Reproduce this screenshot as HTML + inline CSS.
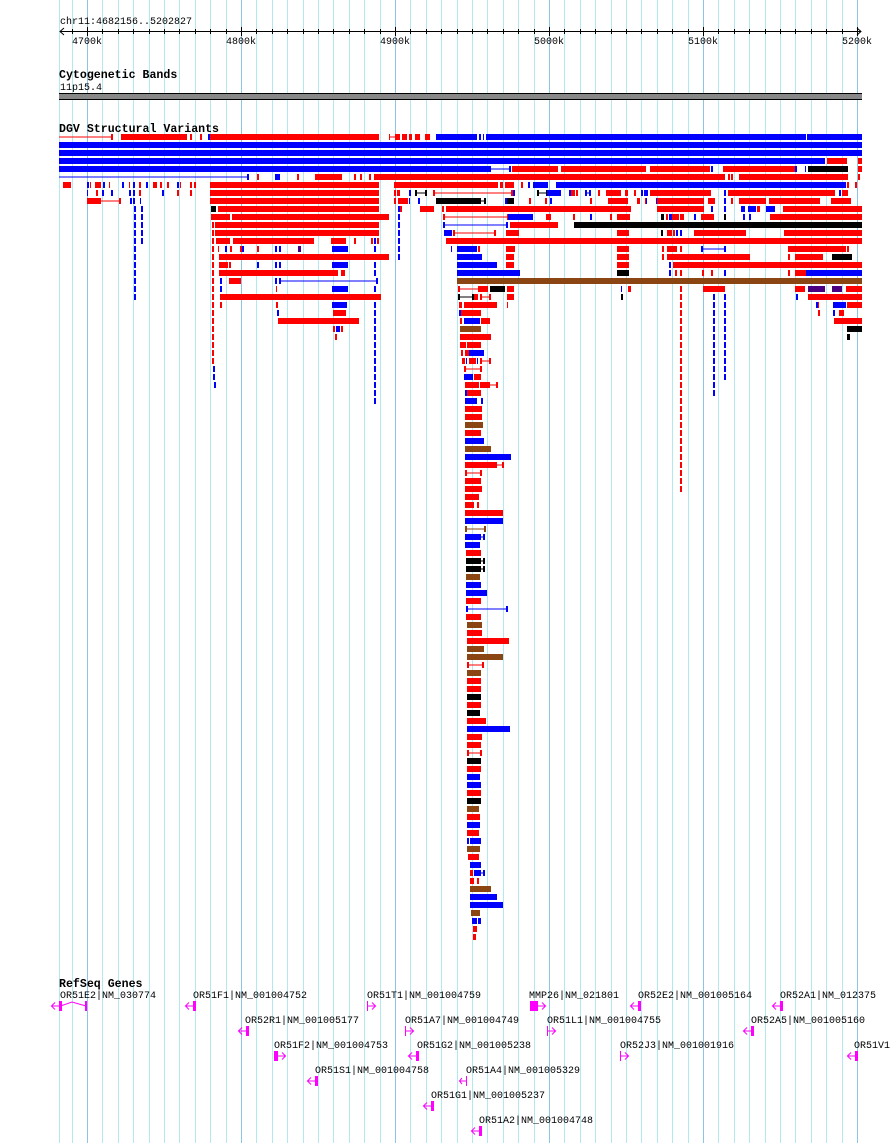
<!DOCTYPE html>
<html><head><meta charset="utf-8"><style>
html,body{margin:0;padding:0;background:#fff;}
svg{display:block;}
text{font-family:"Liberation Mono",monospace;font-size:10px;fill:#000;}
.t{font-weight:bold;font-size:11.6px;}
</style></head><body>
<svg id="s" width="890" height="1143" viewBox="0 0 890 1143" xmlns="http://www.w3.org/2000/svg">
<rect width="890" height="1143" fill="#fff"/>
<g id="grid"></g>
<!-- ruler -->
<text x="60" y="24">chr11:4682156..5202827</text>
<line x1="60" y1="31.5" x2="861" y2="31.5" stroke="#000"/>
<path d="M64 28 L60 31.5 L64 35 M857 28 L861 31.5 L857 35" stroke="#000" fill="none"/>
<g id="ticks"></g>
<text x="72" y="44">4700k</text>
<text x="226" y="44">4800k</text>
<text x="380" y="44">4900k</text>
<text x="534" y="44">5000k</text>
<text x="688" y="44">5100k</text>
<text x="842" y="44">5200k</text>
<text class="t" x="59" y="78">Cytogenetic Bands</text>
<text x="60" y="90">11p15.4</text>
<rect x="59" y="93" width="803" height="7" fill="#888"/>
<line x1="59" y1="93.5" x2="862" y2="93.5" stroke="#000"/>
<line x1="59" y1="99.5" x2="862" y2="99.5" stroke="#000"/>
<text class="t" x="59" y="132">DGV Structural Variants</text>
<g id="dgv"></g>
<text class="t" x="59" y="987">RefSeq Genes</text>
<g id="genes"></g>
<text x="60" y="998">OR51E2|NM_030774</text>
<text x="193" y="998">OR51F1|NM_001004752</text>
<text x="367" y="998">OR51T1|NM_001004759</text>
<text x="529" y="998">MMP26|NM_021801</text>
<text x="638" y="998">OR52E2|NM_001005164</text>
<text x="780" y="998">OR52A1|NM_012375</text>
<text x="245" y="1023">OR52R1|NM_001005177</text>
<text x="405" y="1023">OR51A7|NM_001004749</text>
<text x="547" y="1023">OR51L1|NM_001004755</text>
<text x="751" y="1023">OR52A5|NM_001005160</text>
<text x="274" y="1048">OR51F2|NM_001004753</text>
<text x="417" y="1048">OR51G2|NM_001005238</text>
<text x="620" y="1048">OR52J3|NM_001001916</text>
<text x="854" y="1048">OR51V1</text>
<text x="315" y="1073">OR51S1|NM_001004758</text>
<text x="466" y="1073">OR51A4|NM_001005329</text>
<text x="431" y="1098">OR51G1|NM_001005237</text>
<text x="479" y="1123">OR51A2|NM_001004748</text>
</svg>
<script>
var NS="http://www.w3.org/2000/svg";
function el(p,n,a){var e=document.createElementNS(NS,n);for(var k in a)e.setAttribute(k,a[k]);p.appendChild(e);return e;}
var grid=document.getElementById('grid'),ticks=document.getElementById('ticks');
el(grid,'rect',{x:59,y:0,width:1,height:1143,fill:'#b4e8f0'});
for(var i=-1;i<=51;i++){var x=Math.round(87+i*15.4);if(x<60||x>862)continue;var maj=(i%10==0);
 el(grid,'rect',{x:x,y:0,width:1,height:1143,fill:maj?'#8cc4e4':'#b4e8f0'});
 el(ticks,'rect',{x:x,y:maj?27:29,width:1,height:maj?9:5,fill:'#000'});}
var C={r:'#f00',b:'#00f',k:'#000',n:'#8b4513',p:'#4b0082'};
var rows={
0:"rl59-111 r111-113 r121-187 r190-192 r200-202 b208-210 r210-379 rl389-395 r389-390 r395-400 r402-407 r409-412 r415-420 r425-430 b436-477 b479-481 b483-484 b486-806 b807-862",
1:"b59-862",2:"b59-862",
3:"b59-825 r827-847 r858-862",
4:"b59-491 bl491-510 b509-511 r512-558 r561-646 r650-710 b711-713 r723-795 b795-797 b805-806 k808-848 r858-862",
5:"bl59-248 b247-249 r257-259 b275-280 r297-299 r315-342 r354-356 r360-362 r369-371 r374-725 r728-730 r731-733 r739-848 r858-860",
6:"r63-71 b87-89 r90-91 r95-101 b103-105 r109-110 b122-124 r129-130 b133-135 r139-141 b146-148 r153-157 r160-162 r167-169 b177-179 r180-181 r190-192 r194-196 r210-379 r394-498 r500-503 r505-514 r521-523 b528-530 b533-548 b556-846 r847-849 r855-857",
7:"b87-88 r96-98 b102-104 b111-113 b129-131 b133-135 r139-141 b162-164 r177-179 r190-192 r210-379 r394-396 r397-400 b409-411 kl415-427 k415-417 k425-427 rl433-513 r433-435 r511-513 b513-515 kl537-548 k537-539 k546-548 b547-561 b569-571 r571-575 r576-578 b585-587 bl585-591 b589-591 r598-600 r606-621 r625-628 r634-636 b641-643 b644-648 r650-711 b724-726 r728-835 b839-841 r842-848",
8:"r87-101 rl101-120 r119-121 b130-132 b133-135 b140-141 r210-379 r394-396 r398-408 b409-410 b418-420 k436-481 kl481-485 k484-486 b505-507 k507-514 r529-531 r545-547 b550-552 r590-592 r608-628 r637-640 r645-647 b646-647 b656-658 r657-704 r708-715 b724-726 r731-733 r739-766 r769-820 r831-851",
9:"b134-136 b141-143 k211-216 r218-379 b398-400 r400-402 r420-434 r442-444 r446-631 r657-704 b711-713 b724-726 b741-745 b748-754 b754-756 r757-760 b766-775 r783-862",
10:"b134-136 b141-143 r211-214 r214-230 r232-389 b398-400 rl443-508 r443-445 r507-509 b508-533 r546-551 r573-575 b590-592 r610-612 r617-630 k661-664 r666-668 b669-672 r672-679 r680-682 r682-684 b694-696 r701-714 k724-726 b743-745 b749-751 r770-862",
11:"b134-136 b141-143 r212-214 r215-379 b398-400 bl443-508 b443-445 b506-508 r510-558 k574-862",
12:"b134-136 b141-143 r212-214 r215-379 b398-400 b444-452 r453-455 rl454-495 r494-496 r506-519 r617-629 k661-663 r667-672 r673-675 b676-678 b680-682 r694-746 r784-862",
13:"b134-136 b141-143 r212-214 r216-230 r233-314 r331-346 r354-356 r371-373 b374-376 r377-379 b398-400 r446-862",
14:"b134-136 r212-214 r218-219 b225-227 r230-232 r240-242 b242-244 r257-259 b275-277 b279-281 p298-301 b332-348 b374-376 b398-400 b451-452 b457-477 r478-480 r506-515 r617-629 r662-664 r667-677 r680-682 bl701-726 b701-703 b724-726 r788-846 r847-849",
15:"b134-136 r212-214 r219-389 b398-400 b457-482 r506-514 r617-629 r662-664 r667-750 r788-790 r795-806 r806-823 k832-852",
16:"b134-136 r212-214 r219-228 r229-231 b257-259 b275-277 b279-281 b332-348 b374-376 b457-497 r506-514 r617-629 b669-671 r673-862",
17:"b134-136 r212-214 r219-338 r341-345 b374-376 b457-520 k617-629 b669-671 r675-677 r680-682 r702-704 r711-713 b724-726 r788-790 r795-806 b806-862",
18:"b134-136 r212-214 b220-222 r229-241 b275-277 bl280-377 b279-281 b376-378 n457-862",
19:"b134-136 r212-214 b220-222 r276-277 b332-348 b374-376 rl458-478 r458-460 r478-488 k490-505 r507-514 b621-622 r628-631 r680-682 r703-725 r795-805 p808-825 p832-842 r846-862",
20:"b134-136 r212-214 r220-381 kl458-474 k458-460 k472-474 r474-478 rl480-491 r480-482 r489-491 r507-514 k621-623 r680-682 b713-715 b724-726 b796-798 r808-862",
21:"r212-214 r220-222 r276-278 b332-347 b374-376 r459-462 r464-497 r507-508 r680-682 b713-715 b724-726 b816-818 r818-819 b833-846 r847-862",
22:"r212-214 b277-279 r333-346 b374-376 b459-461 r461-481 r680-682 b713-715 b724-726 r818-820 b833-835 r839-844",
23:"r212-214 r278-359 b374-376 r460-462 b464-480 r481-490 r680-682 b713-715 b724-726 r834-862",
24:"r212-214 r333-335 b336-340 r341-343 b374-376 n460-481 r680-682 b713-715 b724-726 k847-862",
25:"r212-214 r335-337 b374-376 r460-491 r680-682 b713-715 b724-726 k847-850",
26:"r212-214 b374-376 r460-466 r467-481 r680-682 b713-715 b724-726",
27:"r212-214 b374-376 r461-463 r465-469 b469-484 r680-682 b713-715 b724-726",
28:"r212-214 b374-376 r462-465 b466-467 r469-476 b477-478 r480-482 rl482-490 r489-491 r680-682 b713-715 b724-726",
29:"b213-215 b374-376 rl464-482 r464-466 r480-482 r680-682 b713-715 b724-726",
30:"b213-215 b374-376 b464-473 r474-481 r680-682 b713-715 b724-726",
31:"b214-216 b374-376 r465-479 r480-490 rl490-497 r496-498 r680-682 b713-715",
32:"b374-376 b465-467 r467-481 r680-682 b713-715",
33:"b374-376 b465-477 b481-483 r680-682",
34:"r465-482 r680-682",35:"r465-482 r680-682",36:"n465-483 r680-682",37:"r465-481 r680-682",
38:"b465-484 r680-682",39:"n465-491 r680-682",40:"b465-511 r680-682",41:"r465-497 rl497-503 r502-504 r680-682",
42:"rl465-482 r465-467 r480-482 r680-682",43:"r465-481 r680-682",44:"r465-482 r680-682",
45:"r465-479",46:"r465-474 r477-479",47:"r465-503",48:"b465-503",
49:"nl465-486 n465-467 n484-486",50:"b465-481 bl481-485 b483-485",51:"b465-480",52:"r466-481",
53:"k466-481 kl481-485 k483-485",54:"k466-481 kl481-485 k483-485",55:"n466-480",56:"b466-481",57:"b466-487",58:"r466-481",
59:"bl466-507 b466-468 b506-508",60:"r466-481",61:"n467-482",62:"r467-482",63:"r467-509",64:"n467-484",
65:"n467-503",66:"rl467-484 r467-469 r482-484",67:"n467-481",68:"r467-481",69:"r467-481",70:"k467-481",71:"r467-481",
72:"k467-480",73:"r467-486",74:"b467-510",75:"r467-482",76:"r467-481",77:"rl467-481 r467-469 r480-482",78:"k467-481",
79:"r467-481",80:"b467-480",81:"b467-481",82:"r467-481",83:"k467-481",84:"n467-479",85:"r467-480",86:"b467-480",
87:"r467-479",88:"b467-469 b470-481",89:"n467-480",90:"r468-479",91:"b470-481",92:"r470-473 b474-481 bl481-484 b483-485",
93:"r470-474 r477-479",94:"n470-491",95:"b470-497",96:"b470-503",97:"n471-480",98:"b472-477 b478-481",99:"r473-477",100:"r473-476"
};
var g=document.getElementById('dgv');
for(var k in rows){var y=134+8*k;rows[k].split(' ').forEach(function(t){
 var c=C[t[0]],line=t[1]=='l',m=t.slice(line?2:1).split('-'),a=+m[0],b=+m[1];
 if(line)el(g,'rect',{x:a,y:y+2.5,width:b-a,height:1,fill:c});
 else el(g,'rect',{x:a,y:y,width:Math.max(1,b-a),height:6,fill:c});});}
// genes
var gg=document.getElementById('genes'),M='#f0f';
function gene(x,y,dir,w){ // x thick start, y top of glyph
 el(gg,'rect',{x:x,y:y,width:w||3,height:10,fill:M});
 if(dir<0){el(gg,'rect',{x:x-8,y:y+4.5,width:8,height:1,fill:M});
  el(gg,'path',{d:'M'+(x-4)+' '+(y+1.5)+' L'+(x-7.5)+' '+(y+5)+' L'+(x-4)+' '+(y+8.5),stroke:M,fill:'none'});}
 else{var e=x+(w||3);el(gg,'rect',{x:e,y:y+4.5,width:8,height:1,fill:M});
  el(gg,'path',{d:'M'+(e+4)+' '+(y+1.5)+' L'+(e+7.5)+' '+(y+5)+' L'+(e+4)+' '+(y+8.5),stroke:M,fill:'none'});}
}
gene(59,1001,-1);el(gg,'rect',{x:85,y:1001,width:2,height:10,fill:M});
el(gg,'path',{d:'M62 1005.5 L72 1002 L86 1006',stroke:M,fill:'none'});
gene(193,1001,-1);gene(367,1001,1,1);gene(530,1001,1,8);gene(638,1001,-1);gene(780,1001,-1);
gene(246,1026,-1);gene(405,1026,1,1);gene(547,1026,1,1);gene(751,1026,-1);
gene(274,1051,1,4);gene(416,1051,-1);gene(620,1051,1,1);gene(855,1051,-1);
gene(315,1076,-1);el(gg,'rect',{x:466,y:1076,width:1,height:10,fill:M});
el(gg,'rect',{x:459,y:1080.5,width:7,height:1,fill:M});
el(gg,'path',{d:'M462 1078 L459.5 1081 L462 1084',stroke:M,fill:'none'});
gene(431,1101,-1);gene(479,1126,-1);
</script>
</body></html>
